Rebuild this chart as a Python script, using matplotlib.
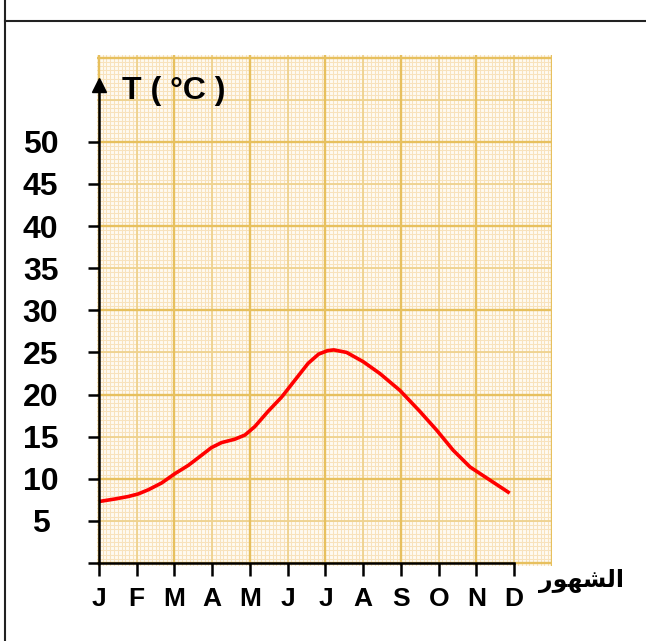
import numpy as np
import matplotlib
matplotlib.use('Agg')
import matplotlib.pyplot as plt
from matplotlib.lines import Line2D

plt.rcParams['font.family'] = ['Liberation Sans', 'DejaVu Sans']

# data
months = ['J', 'F', 'M', 'A', 'M', 'J', 'J', 'A', 'S', 'O', 'N', 'D']
temp_ticks = [0, 5, 10, 15, 20, 25, 30, 35, 40, 45, 50]
curve_month = [0, 0.42, 0.78, 1.04, 1.31, 1.66, 2.01, 2.37, 2.72, 2.98, 3.25, 3.6,
               3.87, 4.13, 4.48, 4.84, 5.19, 5.54, 5.82, 6.05, 6.22, 6.56, 7.0,
               7.44, 7.97, 8.5, 8.94, 9.38, 9.83, 10.27, 10.88]
curve_temp = [7.3, 7.6, 7.9, 8.2, 8.7, 9.5, 10.6, 11.6, 12.8, 13.7, 14.3, 14.7,
              15.2, 16.2, 18.0, 19.7, 21.7, 23.7, 24.8, 25.2, 25.3, 25.0, 23.9,
              22.5, 20.5, 18.0, 15.8, 13.4, 11.4, 10.1, 8.3]
y_title = 'T ( °C )'
x_title = '\ufead\ufeee\ufeec\ufeb8\ufedf\ufe8d'  # الشهور, shaped, visual order

W, H = 646, 641
fig = plt.figure(figsize=(W / 100, H / 100), dpi=100)
ax = fig.add_axes([97 / W, 1 - 566 / H, 455 / W, 511 / H])
ax.set_xlim(-0.05, 12.0)
ax.set_ylim(-0.35, 60.3)
ax.set_facecolor('#fffaf1')

# graph paper
for x in np.arange(-0.0, 12.01, 0.1):
    ax.axvline(x, color='#f8e2bc', lw=0.75, zorder=0.3)
for y in np.arange(0, 60.01, 0.5):
    ax.axhline(y, color='#f8e2bc', lw=0.75, zorder=0.3)
for x in range(0, 13):
    if x % 2 == 0:
        ax.axvline(x, color='#e7c05e', lw=1.7, zorder=0.5)
    else:
        ax.axvline(x, color='#efd28e', lw=1.3, zorder=0.4)
for y in range(0, 61, 5):
    if y % 10 == 0:
        ax.axhline(y, color='#e7c05e', lw=1.7, zorder=0.5)
    else:
        ax.axhline(y, color='#efd28e', lw=1.3, zorder=0.4)

ax.plot(curve_month, curve_temp, color='red', lw=2.6, zorder=3,
        solid_joinstyle='round', solid_capstyle='butt')

for s in ['top', 'right']:
    ax.spines[s].set_visible(False)
ax.spines['left'].set_position(('data', 0))
ax.spines['left'].set_bounds(0, 56.5)
ax.spines['bottom'].set_position(('data', 0))
ax.spines['bottom'].set_bounds(0, 11)
for s in ['left', 'bottom']:
    ax.spines[s].set_linewidth(1.8)
    ax.spines[s].set_zorder(4)
ax.plot([0], [56.7], marker='^', ms=10.5, color='black', clip_on=False, zorder=5)

ax.set_xticks(range(len(months)))
ax.set_xticklabels(months, fontsize=19, fontweight='bold')
ax.set_yticks(temp_ticks)
ax.set_yticklabels([''] + [str(t) for t in temp_ticks[1:]], fontsize=23, fontweight='bold')
for lab in ax.get_yticklabels():
    lab.set_ha('center')
ax.tick_params(axis='x', length=9.5, width=1.8, pad=8)
ax.tick_params(axis='y', length=8, width=1.8, pad=34)

fig.text(122 / W, 1 - 99 / H, y_title, fontsize=23, fontweight='bold',
         ha='left', va='baseline')
fig.text(581 / W, 1 - 581 / H, x_title, fontsize=17, fontweight='bold',
         family='DejaVu Sans', ha='center', va='center')

# page frame lines
fig.add_artist(Line2D([5 / W, 5 / W], [0, 1], color='#222222', lw=1.5))
fig.add_artist(Line2D([5 / W, 1], [1 - 21 / H, 1 - 21 / H], color='#222222', lw=1.5))

fig.savefig('out.png', dpi=100)
